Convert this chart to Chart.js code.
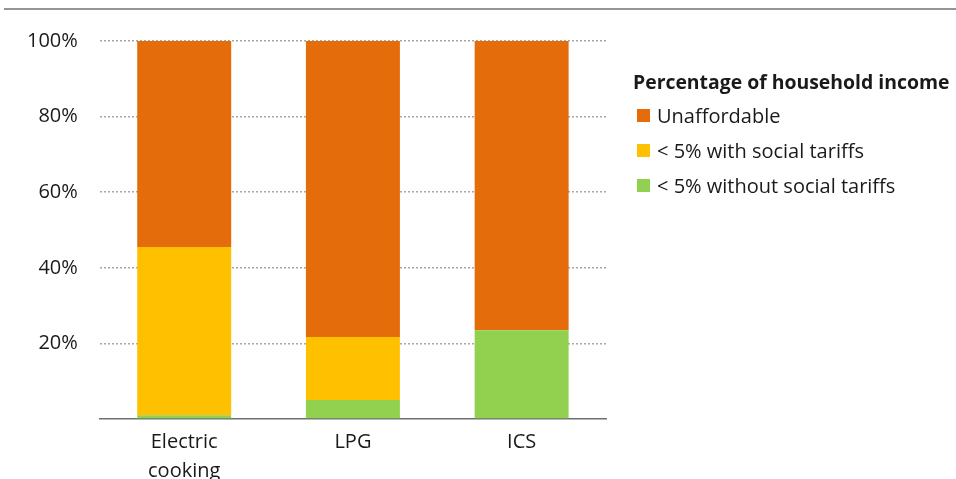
<!DOCTYPE html>
<html lang="en">
<head>
<meta charset="UTF-8">
<title>Cooking affordability</title>
<script src="https://cdn.jsdelivr.net/npm/chart.js@4.4.1/dist/chart.umd.min.js"></script>
<style>
body {
margin: 0;
padding: 0;
background: #fff;
font-family: "Open Sans", sans-serif;
}
.wrap {
position: relative;
width: 956px;
height: 479px;
}
.topline {
position: absolute;
left: 4px;
right: 0;
top: 8px;
border-top: 2px solid #959595;
}
#legend {
position: absolute;
left: 633px;
top: 64px;
color: #1a1a1a;
font-size: 20px;
}
#legend .title {
font-weight: bold;
font-size: 19.4px;
height: 34px;
line-height: 35px;
}
#legend .item {
height: 35px;
display: flex;
align-items: center;
}
#legend .box {
width: 13px;
height: 13px;
margin: 0 7px 0 4px;
}
</style>
</head>
<body>
<div class="wrap">
<div class="topline"></div>
<canvas id="chart" width="956" height="479"></canvas>
<div id="legend"></div>
</div>
<script>
// data
const categories = [['Electric', 'cooking'], 'LPG', 'ICS'];
const withoutTariffs = [1, 5, 23.5];
const withTariffs = [44.5, 16.7, 0];
const unaffordable = [54.5, 78.3, 76.5];
const yTicks = [0, 20, 40, 60, 80, 100];

const legendTitle = 'Percentage of household income';

const ctx = document.getElementById('chart').getContext('2d');
const chart = new Chart(ctx, {
type: 'bar',
data: {
labels: categories,
datasets: [
{ label: '< 5% without social tariffs', data: withoutTariffs, backgroundColor: '#92d050' },
{ label: '< 5% with social tariffs', data: withTariffs, backgroundColor: '#ffc000' },
{ label: 'Unaffordable', data: unaffordable, backgroundColor: '#e46c0a' }
]
},
options: {
responsive: false,
animation: false,
layout: { padding: { left: 5, right: 350, top: 41, bottom: -8 } },
plugins: {
legend: { display: false },
tooltip: { enabled: false }
},
datasets: {
bar: { categoryPercentage: 1, barPercentage: 0.557 }
},
scales: {
x: {
stacked: true,
grid: { display: false },
border: { display: true, color: '#6f6f6f', width: 1.5 },
ticks: {
color: '#1a1a1a',
font: { family: 'Open Sans', size: 20, lineHeight: 1.45 },
padding: 1,
maxRotation: 0
}
},
y: {
stacked: true,
min: 0,
max: 100,
afterBuildTicks: axis => { axis.ticks = yTicks.map(v => ({ value: v })); },
border: { display: false, dash: [2, 2] },
grid: {
color: c => c.tick && c.tick.value === 0 ? 'rgba(0,0,0,0)' : '#a6a6a6',
lineWidth: 1.5,
drawTicks: false
},
ticks: {
color: '#1a1a1a',
font: { family: 'Open Sans', size: 20, lineHeight: 1.3 },
padding: 22,
callback: v => v === 0 ? '' : v + '%'
}
}
}
}
});

// legend built from the datasets, top item first
const legend = document.getElementById('legend');
const t = document.createElement('div');
t.className = 'title';
t.textContent = legendTitle;
legend.appendChild(t);
chart.data.datasets.slice().reverse().forEach(ds => {
const row = document.createElement('div');
row.className = 'item';
const b = document.createElement('span');
b.className = 'box';
b.style.background = ds.backgroundColor;
const s = document.createElement('span');
s.textContent = ds.label;
row.appendChild(b);
row.appendChild(s);
legend.appendChild(row);
});
</script>
</body>
</html>
